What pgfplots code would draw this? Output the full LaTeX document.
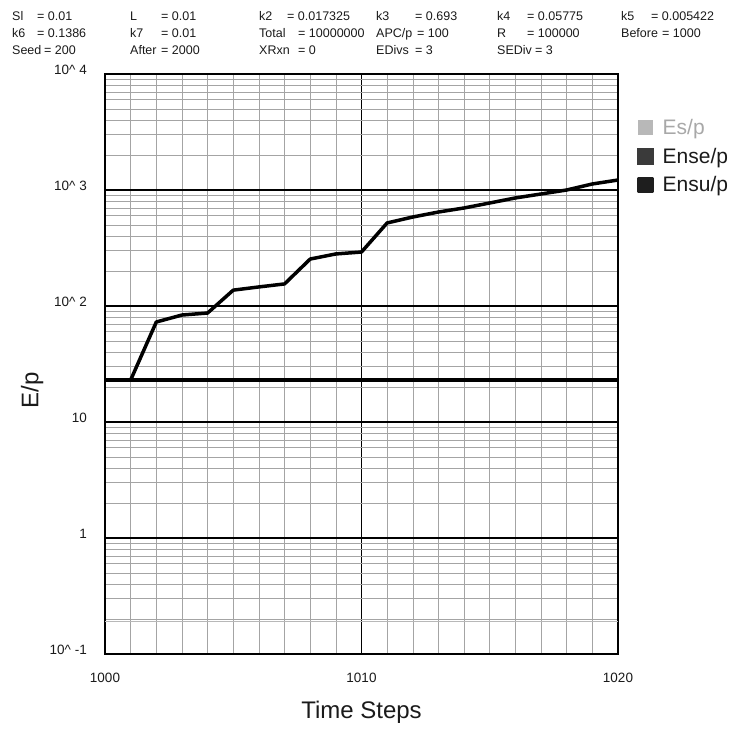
\documentclass[border=0pt]{standalone}
\usepackage{pgfplots}
\pgfplotsset{compat=1.18}
\usepackage{fontspec}
\setmainfont{Liberation Sans}

\definecolor{escol}{HTML}{B8B8B8}
\definecolor{estext}{HTML}{A8A8A8}
\definecolor{ensecol}{HTML}{3A3A3A}
\definecolor{ensucol}{HTML}{1E1E1E}
\definecolor{ink}{HTML}{1A1A1A}
\definecolor{minorgrid}{HTML}{A4A4A4}

\newcommand{\hdr}{\fontsize{12.5}{15}\selectfont}

\begin{document}
\begin{tikzpicture}[x=1pt,y=1pt]
\useasboundingbox (0,0) rectangle (731,731);
\begin{axis}[
  at={(105pt,77pt)}, anchor=south west,
  scale only axis, width=513pt, height=580pt,
  xmin=1000, xmax=1020,
  ymode=log, ymin=0.1, ymax=10000,
  xtick={1000,1010,1020}, xticklabels={1000,1010,1020},
  minor xtick={1001,1002,1003,1004,1005,1006,1007,1008,1009,1011,1012,1013,1014,1015,1016,1017,1018,1019},
  ytick={0.1,1,10,100,1000,10000},
  yticklabels={10\textasciicircum\ -1,1,10,10\textasciicircum\ 2,10\textasciicircum\ 3,10\textasciicircum\ 4},
  minor ytick={0.2,0.3,0.4,0.5,0.6,0.7,0.8,0.9,2,3,4,5,6,7,8,9,20,30,40,50,60,70,80,90,200,300,400,500,600,700,800,900,2000,3000,4000,5000,6000,7000,8000,9000},
  grid=both,
  major grid style={black, line width=1.4pt},
  minor grid style={minorgrid, line width=0.55pt},
  major tick length=0pt, minor tick length=0pt,
  axis line style={black, line width=1.8pt},
  tick label style={font=\fontsize{13.5}{16}\selectfont, text=ink},
  yticklabel style={anchor=east, inner sep=0pt, xshift=-18pt, yshift=4pt},
  xticklabel style={anchor=center, inner sep=0pt, yshift=-24pt},
  xlabel={Time Steps}, ylabel={E/p},
  label style={font=\fontsize{24}{28}\selectfont, text=ink},
  xlabel style={at={(axis description cs:0.5,0)}, anchor=center, yshift=-58pt},
  ylabel style={at={(axis description cs:-0.142,0.455)}, anchor=center},
  legend style={at={(1,1)}, anchor=north west, xshift=19pt, yshift=-44pt,
    draw=none, fill=none, inner sep=0pt, row sep=10pt,
    font=\fontsize{21}{24}\selectfont,
    nodes={inner sep=1pt},
    /tikz/every odd column/.append style={column sep=8pt}},
  legend cell align=left,
]
\addplot[escol, line width=1.2pt,
  legend image code/.code={\fill[escol] (0pt,-6.5pt) rectangle (13pt,6.5pt);}]
  coordinates {(1000,0.19) (1020,0.19)};
\addlegendentry{\textcolor{estext}{Es/p}}
\addplot[black, line width=3.5pt,
  legend image code/.code={\fill[ensecol] (0pt,-6.5pt) rectangle (13pt,6.5pt);}]
  coordinates {(1000,23) (1020,23)};
\addlegendentry{\textcolor{ink}{Ense/p}}
\addplot[black, line width=3.5pt, line join=round,
  legend image code/.code={\fill[ensucol] (0pt,-6.5pt) rectangle (13pt,6.5pt);}]
  coordinates {
    (1001,23) (1002,72.8) (1003,83.6) (1004,87) (1005,137)
    (1006,146) (1007,155) (1008,254) (1009,281) (1010,292)
    (1011,520) (1012,585) (1013,646) (1014,700) (1015,773)
    (1016,854) (1017,924) (1018,1000) (1019,1127) (1020,1219)
  };
\addlegendentry{\textcolor{ink}{Ensu/p}}
\end{axis}

% parameter header
\begin{scope}[every node/.style={anchor=base west, inner sep=0pt, font=\hdr, text=ink}]
  % row 1
  \node at (12,710) {Sl};      \node at (37,710) {= 0.01};
  \node at (130,710) {L};      \node at (161,710) {= 0.01};
  \node at (259,710) {k2};     \node at (287,710) {= 0.017325};
  \node at (376,710) {k3};     \node at (415,710) {= 0.693};
  \node at (497,710) {k4};     \node at (527,710) {= 0.05775};
  \node at (621,710) {k5};     \node at (651,710) {= 0.005422};
  % row 2
  \node at (12,693) {k6};      \node at (37,693) {= 0.1386};
  \node at (130,693) {k7};     \node at (161,693) {= 0.01};
  \node at (259,693) {Total};  \node at (298,693) {= 10000000};
  \node at (376,693) {APC/p};  \node at (417,693) {= 100};
  \node at (497,693) {R};      \node at (527,693) {= 100000};
  \node at (621,693) {Before}; \node at (662,693) {= 1000};
  % row 3
  \node at (12,676) {Seed};    \node at (44,676) {= 200};
  \node at (130,676) {After};  \node at (161,676) {= 2000};
  \node at (259,676) {XRxn};   \node at (298,676) {= 0};
  \node at (376,676) {EDivs};  \node at (415,676) {= 3};
  \node at (497,676) {SEDiv};  \node at (535,676) {= 3};
\end{scope}
\end{tikzpicture}
\end{document}
